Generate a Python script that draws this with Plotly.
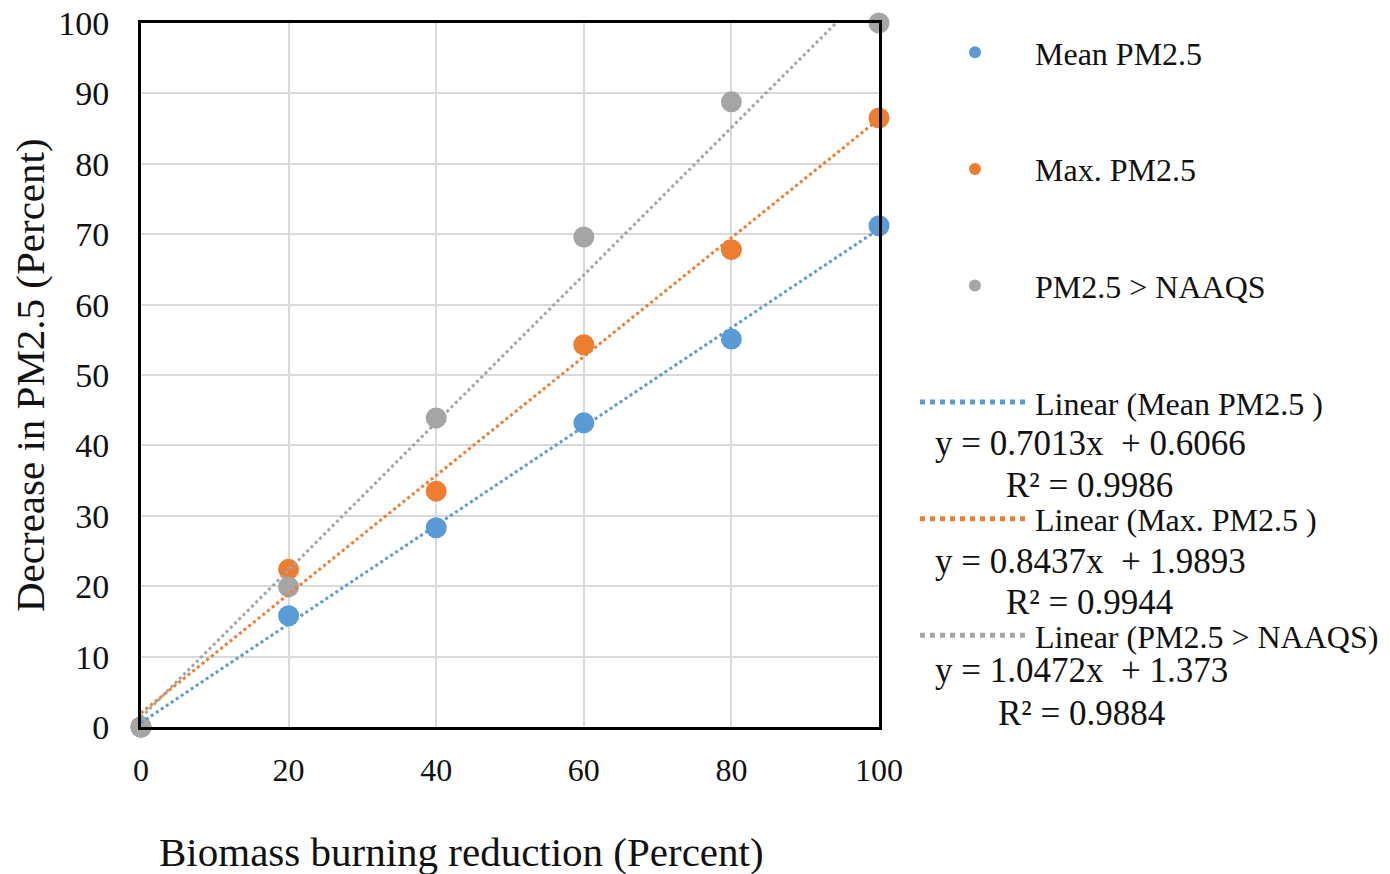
import plotly.graph_objects as go

# ---- data ----
reduction = [0, 20, 40, 60, 80, 100]
mean_pm25 = [0, 15.8, 28.3, 43.2, 55.1, 71.2]
max_pm25 = [0, 22.4, 33.5, 54.3, 67.8, 86.5]
naaqs_pm25 = [0, 19.9, 43.9, 69.6, 88.8, 100.0]

series_names = ["Mean PM2.5", "Max. PM2.5", "PM2.5 > NAAQS"]
trend_names = ["Linear (Mean PM2.5 )", "Linear (Max. PM2.5 )", "Linear (PM2.5 > NAAQS)"]
slopes = [0.7013, 0.8437, 1.0472]
intercepts = [0.6066, 1.9893, 1.373]
r_squared = [0.9986, 0.9944, 0.9884]
colors = ["#5B9BD5", "#ED7D31", "#A5A5A5"]
y_ticks = [0, 10, 20, 30, 40, 50, 60, 70, 80, 90, 100]
x_ticks = [0, 20, 40, 60, 80, 100]
x_title = "Biomass burning reduction (Percent)"
y_title = "Decrease in PM2.5 (Percent)"

FONT = "Liberation Serif"
TXT = "#111111"
OFF = 0  # body margin removed via post_script

fig = go.Figure()
series_values = [mean_pm25, max_pm25, naaqs_pm25]

# scatter points
for name, vals, col in zip(series_names, series_values, colors):
    fig.add_trace(go.Scatter(
        x=reduction, y=vals, mode="markers", name=name,
        legendgroup=name,
        marker=dict(color=col, size=21),
        cliponaxis=False,
    ))

# trend lines
for name, m, b, col in zip(trend_names, slopes, intercepts, colors):
    fig.add_trace(go.Scatter(
        x=reduction, y=[m * x + b for x in reduction], mode="lines", name=name,
        legendgroup=name,
        line=dict(color=col, width=3, dash="dot"),
        cliponaxis=True,
    ))

# plot area geometry (page pixels) for annotation placement
L, R, T, B = 141, 879, 23, 727
W, H = R - L, B - T
FW, FH = 1390 - OFF, 874 - OFF


def px(xp):
    return (xp - L) / W


def py(yp):
    return (B - yp) / H


eq_pos = [(933, 443, 1004, 485), (933, 561, 1004, 602), (933, 670, 996, 713)]
for m, b, r2, (ex, ey, rx, ry) in zip(slopes, intercepts, r_squared, eq_pos):
    fig.add_annotation(x=px(ex), y=py(ey), xref="paper", yref="paper",
                       xanchor="left", yanchor="middle", showarrow=False,
                       text=f"y = {m}x  + {b}",
                       font=dict(family=FONT, size=35, color=TXT))
    fig.add_annotation(x=px(rx), y=py(ry), xref="paper", yref="paper",
                       xanchor="left", yanchor="middle", showarrow=False,
                       text=f"R² = {r2}",
                       font=dict(family=FONT, size=35, color=TXT))

# axis titles
fig.add_annotation(x=px(461), y=py(852), xref="paper", yref="paper",
                   xanchor="center", yanchor="middle", showarrow=False,
                   text=x_title, font=dict(family=FONT, size=41, color=TXT))
fig.add_annotation(x=px(30), y=py(375), xref="paper", yref="paper",
                   xanchor="center", yanchor="middle", showarrow=False,
                   textangle=-90,
                   text=y_title, font=dict(family=FONT, size=41, color=TXT))

fig.update_layout(
    width=FW, height=FH,
    margin=dict(l=L - OFF, r=FW - (R - OFF), t=T - OFF, b=FH - (B - OFF), autoexpand=False),
    paper_bgcolor="white", plot_bgcolor="white",
    font=dict(family=FONT, color=TXT),
    showlegend=True,
    legend=dict(
        x=px(915), y=py(25), xanchor="left", yanchor="top",
        font=dict(family=FONT, size=32, color=TXT),
        itemwidth=110, itemsizing="constant",
        tracegroupgap=72, bgcolor="rgba(0,0,0,0)",
        traceorder="grouped",
    ),
    xaxis=dict(
        range=[0, 100], tickvals=x_ticks, showgrid=True,
        gridcolor="#D9D9D9", gridwidth=2,
        showline=True, mirror=True, linecolor="black", linewidth=3,
        zeroline=False, ticks="", ticklabelstandoff=13, automargin=False,
        ticklabeloverflow="allow",
        tickfont=dict(family=FONT, size=32, color=TXT),
    ),
    yaxis=dict(
        range=[0, 100], tickvals=y_ticks, showgrid=True,
        gridcolor="#D9D9D9", gridwidth=2,
        showline=True, mirror=True, linecolor="black", linewidth=3,
        zeroline=False, ticks="", ticklabelstandoff=22, automargin=False,
        ticklabeloverflow="allow",
        tickfont=dict(family=FONT, size=34, color=TXT),
    ),
)

fig.write_html(
    "out.html",
    config={"displayModeBar": False},
    post_script="document.body.style.margin='0px';document.body.style.overflow='hidden';",
)
